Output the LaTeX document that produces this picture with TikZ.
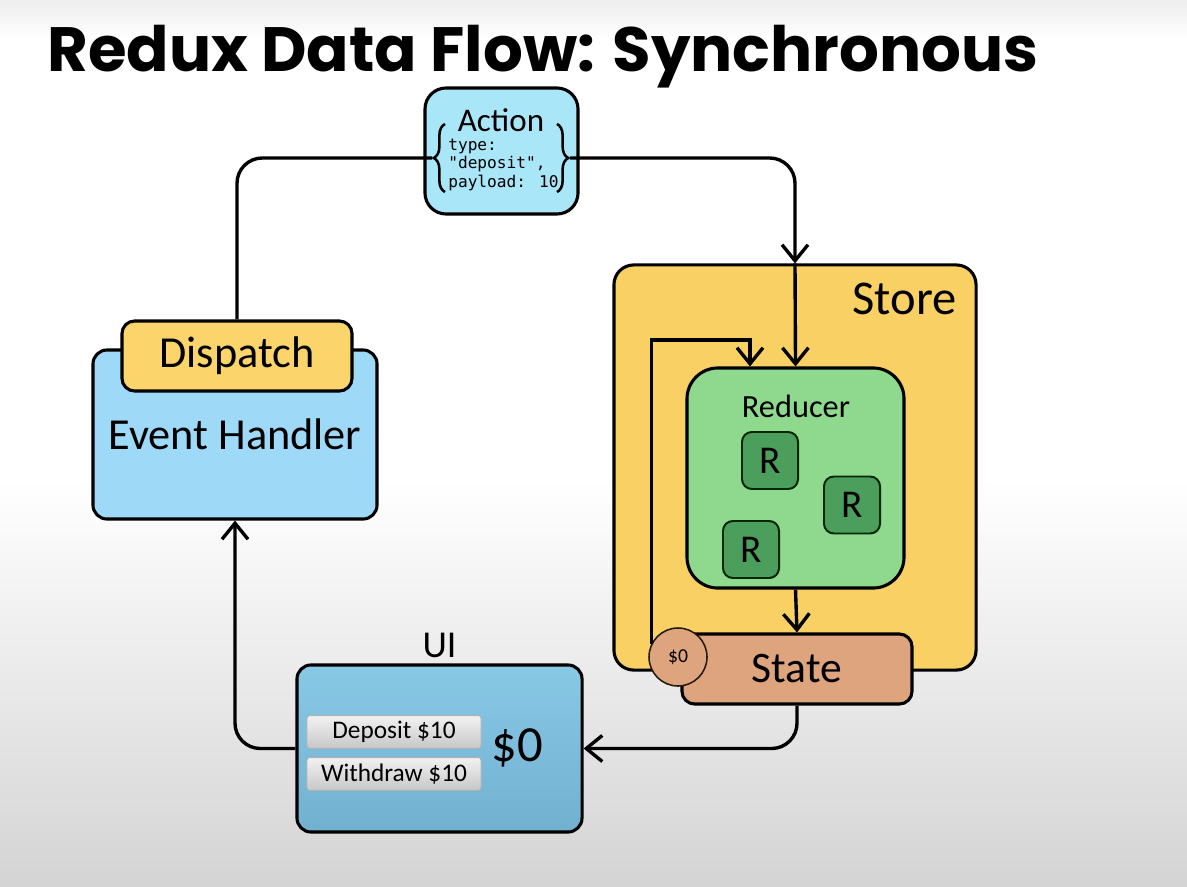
\documentclass[tikz,border=0pt]{standalone}
\usepackage{fontspec}
\setmainfont{Carlito}
\newfontfamily\titlefont{Poppins}
\newfontfamily\codefont{DejaVu Sans Mono}[Ligatures=TeXOff]
\usetikzlibrary{arrows.meta,decorations.pathreplacing,positioning}

\definecolor{actioncyan}{HTML}{A8E6F8}
\definecolor{eventblue}{HTML}{9ED9F8}
\definecolor{dispatchyellow}{HTML}{FBD46B}
\definecolor{storeyellow}{HTML}{F9D063}
\definecolor{reducergreen}{HTML}{8FD98F}
\definecolor{rgreen}{HTML}{4C9E5C}
\definecolor{statetan}{HTML}{DDA47D}
\definecolor{uitop}{HTML}{88C9E6}
\definecolor{uibottom}{HTML}{72B0D0}

\begin{document}
\begin{tikzpicture}[x=0.025cm,y=-0.025cm,
  box/.style={draw=black,line width=2.2pt,align=center},
  rbox/.style={draw=black!85!green,line width=1.4pt,fill=rgreen,rounded corners=7pt,
    minimum width=1.4cm,minimum height=1.425cm,font=\fontsize{28}{32}\selectfont},
  btn/.style={draw=black!30,line width=0.6pt,top color=black!5,bottom color=black!22,
    rounded corners=2pt,minimum width=4.35cm,minimum height=0.82cm,inner sep=0pt,
    font=\fontsize{18}{21}\selectfont},
  wire/.style={line width=2.4pt},
  flow/.style={line width=2.4pt,-{Straight Barb[length=4mm,width=6.5mm,line width=2.4pt]}}]
  \useasboundingbox (0,0) rectangle (1187,886);
  % background
  \fill[white] (0,0) rectangle (1187,886);
  \shade[top color=black!7,bottom color=white] (0,0) rectangle (1187,40);
  \shade[top color=white,bottom color=black!17] (0,480) rectangle (1187,886);

  \node[anchor=base west,inner sep=0pt,font=\titlefont\bfseries\fontsize{44.5}{50}\selectfont] (title) at (47,72) {Redux Data Flow: Synchronous};

  % action
  \node[box,fill=actioncyan,rounded corners=15pt,minimum width=3.825cm,minimum height=3.15cm] (action) at (501.5,151) {};
  \node[font=\fontsize{23.5}{26}\selectfont] (actionlabel) at (501,120) {Action};
  \node[anchor=west,align=left,inner sep=0pt,font=\codefont\fontsize{11.5}{13.5}\selectfont] (payload) at (448,165) {type:\\"deposit",\\payload: 10};
  \draw[line width=1.8pt,decorate,decoration={brace,amplitude=8pt}] (445,192) -- (445,124);
  \draw[line width=1.8pt,decorate,decoration={brace,amplitude=8pt}] (557,124) -- (557,192);
  \coordinate (lefttip) at (432,158);
  \coordinate (righttip) at (570,158);

  % store
  \node[box,fill=storeyellow,rounded corners=14pt,minimum width=9.05cm,minimum height=10.125cm] (store) at (795,467.5) {};
  \node[anchor=north east,inner sep=0pt,font=\fontsize{34.5}{40}\selectfont] (storelabel) at (957,283) {Store};
  \node[box,fill=reducergreen,rounded corners=22pt,minimum width=5.425cm,minimum height=5.5cm] (reducer) at (795.5,478) {};
  \node[font=\fontsize{23}{28}\selectfont] (reducerlabel) at (796,406) {Reducer};
  \foreach \n/\x/\y in {1/770/460.5,2/852/505,3/751/549.5}
    \node[rbox] (r\n) at (\x,\y) {R};
  \node[box,fill=statetan,rounded corners=9pt,minimum width=5.75cm,minimum height=1.75cm,font=\fontsize{31}{36}\selectfont] (state) at (797,669) {State};
  \node[circle,draw=black!80!brown,line width=1.1pt,fill=statetan,minimum size=1.45cm,inner sep=0pt,font=\fontsize{14}{16}\selectfont] (coin) at (678,657) {\$0};
  \coordinate (loopin) at ([xshift=-1.1375cm]reducer.north);

  % event handler
  \node[box,fill=eventblue,rounded corners=10pt,minimum width=7.1cm,minimum height=4.225cm,font=\fontsize{31.5}{36}\selectfont] (event) at (235,434.5) {Event Handler};
  \node[box,fill=dispatchyellow,rounded corners=9pt,minimum width=5.75cm,minimum height=1.75cm,font=\fontsize{31.5}{36}\selectfont] (dispatch) at (237,356) {Dispatch};

  % ui
  \node[box,top color=uitop,bottom color=uibottom,rounded corners=10pt,minimum width=7.125cm,minimum height=4.175cm] (ui) at (439.5,748.5) {};
  \node[above=4pt of ui,inner sep=0pt,font=\fontsize{27}{32}\selectfont] (uilabel) {UI};
  \node[btn] (deposit) at (394,732) {Deposit \$10};
  \node[btn] (withdraw) at (394,774) {Withdraw \$10};
  \node[font=\fontsize{36}{40}\selectfont] (balance) at (517,748) {\$0};

  % connectors
  \draw[wire,rounded corners=18pt] (lefttip) -| (dispatch.north);
  \draw[flow,rounded corners=18pt] (righttip) -| (store.north);
  \draw[flow] (store.north) -- (reducer.north);
  \draw[flow] (coin.154) -- ++(0,-304) -| (loopin);
  \draw[flow] (reducer.south) -- (state.north);
  \draw[flow,rounded corners=18pt] (state.south) |- (ui.east);
  \draw[flow,rounded corners=18pt] (ui.west) -| (event.south);
\end{tikzpicture}
\end{document}
